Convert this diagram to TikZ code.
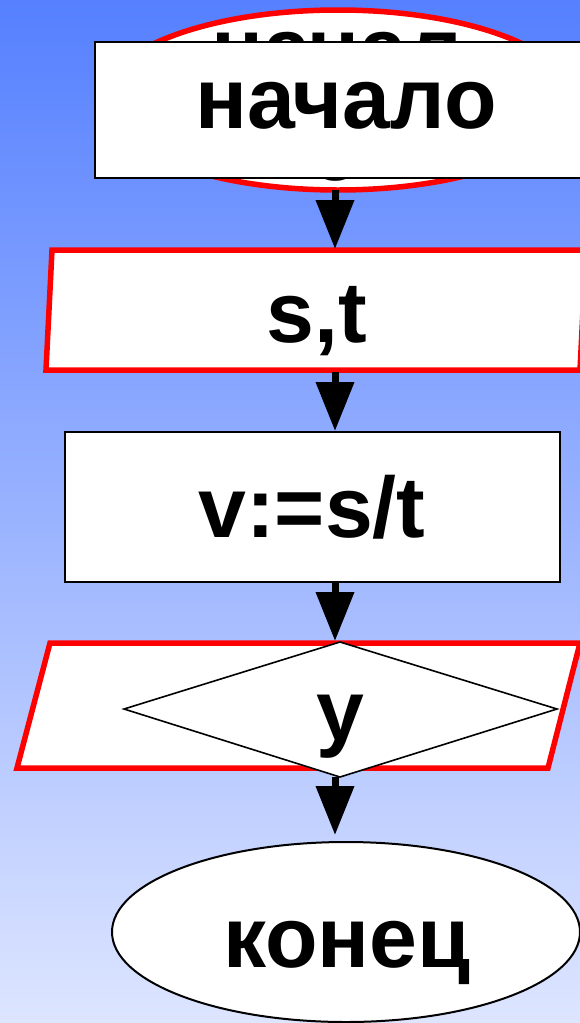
\documentclass[tikz,border=0pt]{standalone}
\usepackage{fontspec}
\setmainfont{Liberation Sans}
\usetikzlibrary{arrows.meta,shapes.geometric}
\definecolor{bgtop}{RGB}{85,128,255}
\definecolor{bgbot}{RGB}{221,229,255}
\definecolor{flred}{RGB}{255,0,0}
\begin{document}
\begin{tikzpicture}[x=1pt,y=-1pt,
  lbl/.style={font=\fontsize{86}{90}\selectfont\bfseries, inner sep=0pt, anchor=base},
  redline/.style={draw=flred, line width=5.5pt, fill=white},
  blk/.style={draw=black, line width=2pt, fill=white},
  thinblk/.style={draw=black, line width=1.6pt, fill=white},
  arr/.style={line width=7pt, -{Triangle[width=37pt,length=49pt]}}]
\useasboundingbox (0,0) rectangle (580,1023);
\shade[top color=bgtop, bottom color=bgbot] (0,0) rectangle (580,1023);
\begin{scope}
\clip (0,0) rectangle (580,1023);
% start ellipse (red) with its own text, mostly hidden
\node[ellipse, redline, minimum width=472pt, minimum height=180pt, inner sep=0pt] (start) at (338,100) {};
\node[lbl] (startA) at (337,78) {начал};
\node[lbl] (startB) at (336,180) {о};
% white box over it
\node[blk, minimum width=488pt, minimum height=136pt, inner sep=0pt] (begin) at (339,110) {};
\node[lbl] (beginT) at (346,128) {начало};
% input parallelogram s,t
\draw[redline] (52,250) -- (586,250) -- (580,370) -- (46,370) -- cycle;
\node[lbl] (inT) at (317,342) {s,t};
% process box
\node[blk, minimum width=495pt, minimum height=150pt, inner sep=0pt] (proc) at (312.5,507) {};
\node[lbl] (procT) at (312,537) {v:=s/t};
% output parallelogram with diamond
\draw[redline] (50,643) -- (580,643) -- (548,768) -- (17,768) -- cycle;
\draw[thinblk] (340,642) -- (557,709) -- (340,777) -- (124,709) -- cycle;
\node[lbl] (outT) at (340,740) {y};
% end ellipse
\node[ellipse, blk, minimum width=468pt, minimum height=180pt, inner sep=0pt] (stop) at (346,932) {};
\node[lbl] (stopT) at (347,967) {конец};
% connectors
\coordinate (a1s) at (335,190);
\coordinate (a1e) at (335,249);
\coordinate (a2s) at (335,372);
\coordinate (a2e) at (335,431);
\coordinate (a3s) at (335,582);
\coordinate (a3e) at (335,641);
\coordinate (a4s) at (335,777);
\coordinate (a4e) at (335,835);
\draw[arr] (a1s) -- (a1e);
\draw[arr] (a2s) -- (a2e);
\draw[arr] (a3s) -- (a3e);
\draw[arr] (a4s) -- (a4e);
\end{scope}
\end{tikzpicture}
\end{document}
